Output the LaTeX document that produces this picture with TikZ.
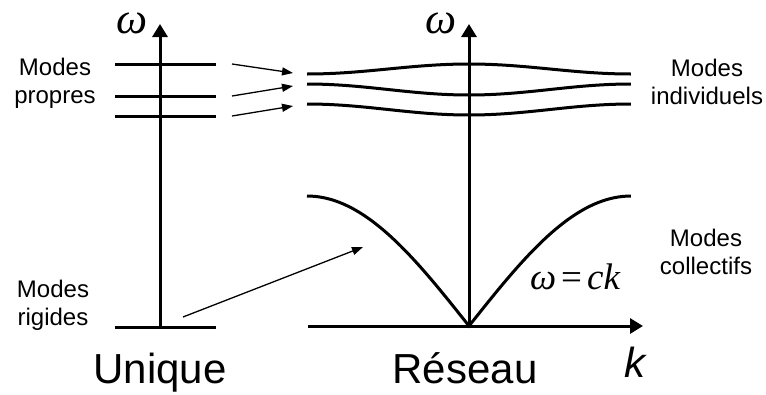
\documentclass[tikz,border=0pt]{standalone}
\usepackage{fontspec}
\setmainfont{Liberation Sans}
\newfontfamily\serifit{Liberation Serif}
\usetikzlibrary{arrows.meta}
\begin{document}
\begin{tikzpicture}[x=1pt,y=-1pt,
  axis/.style={line width=3pt,-{Triangle[length=13pt,width=15pt]}},
  level/.style={line width=3pt},
  curve/.style={line width=3pt},
  pointer/.style={line width=1.3pt,-{Triangle[length=11pt,width=8pt]}},
  lbl/.style={font=\fontsize{24}{28}\selectfont, align=center, inner sep=0pt},
  big/.style={font=\fontsize{42}{48}\selectfont, inner sep=0pt, anchor=base},
  omega/.style={font=\fontsize{44}{48}\selectfont\serifit\itshape, inner sep=0pt, anchor=base}]
\useasboundingbox (0,0) rectangle (766,394);
% left diagram
\coordinate (o1) at (160,328);
\coordinate (t1) at (160,24);
\draw[axis] (o1) -- (t1);
\coordinate (l1a) at (115,64);  \coordinate (l1b) at (216,64);
\coordinate (l2a) at (115,96);  \coordinate (l2b) at (216,96);
\coordinate (l3a) at (115,116); \coordinate (l3b) at (216,116);
\coordinate (l0a) at (115,327); \coordinate (l0b) at (216,327);
\draw[level] (l1a) -- (l1b);
\draw[level] (l2a) -- (l2b);
\draw[level] (l3a) -- (l3b);
\draw[level] (l0a) -- (l0b);
% right diagram
\coordinate (o2) at (469,327);
\coordinate (t2) at (469,24);
\coordinate (xa) at (308,326);
\coordinate (xe) at (643,326);
\draw[axis] (o2) -- (t2);
\draw[axis] (xa) -- (xe);
\draw[curve] plot[domain=-1:1, samples=61] ({469+162*\x},{69-5*cos(180*\x)});
\draw[curve] plot[domain=-1:1, samples=61] ({469+162*\x},{89.5+5.5*cos(180*\x)});
\draw[curve] plot[domain=-1:1, samples=61] ({469+162*\x},{109.5+5.5*cos(180*\x)});
\draw[curve] plot[domain=-1:1, samples=81] ({469+162*\x},{326-130*sin(90*abs(\x))});
% pointers
\coordinate (p1s) at (232,64);  \coordinate (p1e) at (293,73);
\coordinate (p2s) at (232,96);  \coordinate (p2e) at (293,86);
\coordinate (p3s) at (232,116); \coordinate (p3e) at (293,106);
\coordinate (rs) at (183,317);  \coordinate (re) at (363,247);
\draw[pointer] (p1s) -- (p1e);
\draw[pointer] (p2s) -- (p2e);
\draw[pointer] (p3s) -- (p3e);
\draw[pointer] (rs) -- (re);
% labels
\node[lbl] (propres) at (55,83) {Modes\\propres};
\node[lbl] (rigides) at (53,305) {Modes\\rigides};
\node[lbl] (indiv) at (707,82) {Modes\\individuels};
\node[lbl] (coll) at (706,252) {Modes\\collectifs};
\node[big] (unique) at (160,383) {Unique};
\node[big] (reseau) at (465,383) {Réseau};
\node[big, font=\fontsize{42}{48}\selectfont\itshape] (k) at (635,377) {k};
\node[omega] (w1) at (132,33) {ω};
\node[omega] (w2) at (441,33) {ω};
\node[omega, font=\fontsize{37}{40}\selectfont\serifit\itshape] (disp) at (575,289) {ω\hspace{5pt}{\upshape=}\hspace{5pt}ck};
\end{tikzpicture}
\end{document}
